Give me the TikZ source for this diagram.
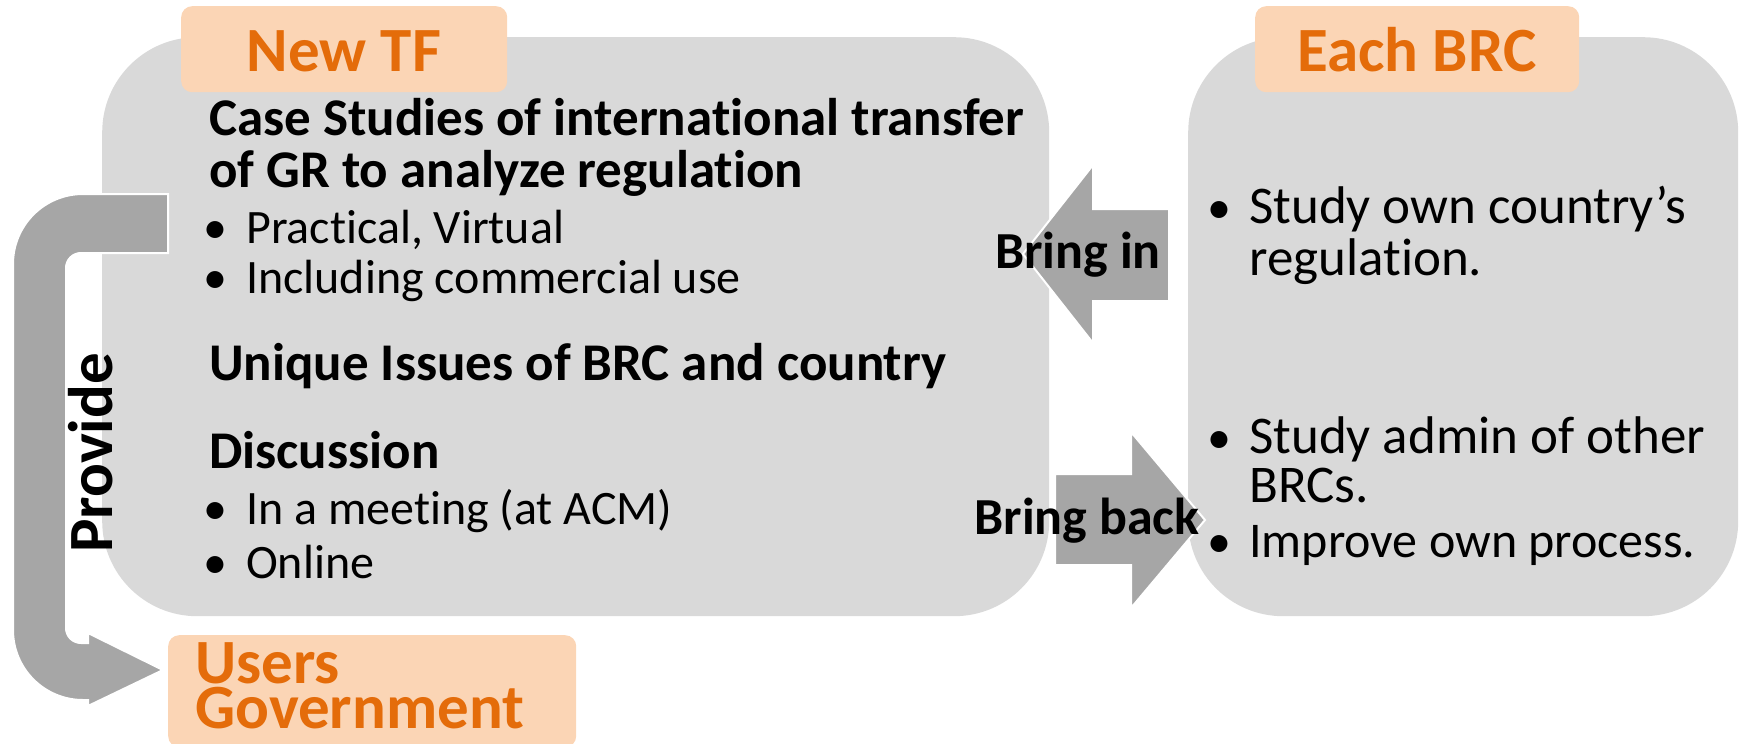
\documentclass[tikz,border=0pt]{standalone}
\usepackage{fontspec}
\setmainfont{Carlito}[Ligatures={NoCommon}]
\definecolor{boxgray}{HTML}{D9D9D9}
\definecolor{arrowgray}{HTML}{A6A6A6}
\definecolor{peach}{HTML}{FBD5B5}
\definecolor{orangetxt}{HTML}{E46C0A}
\newcommand{\nolig}{\kern0pt }
\tikzset{
  panel/.style={fill=boxgray, rounded corners=95pt, inner sep=0pt, anchor=north west},
  tag/.style={fill=peach, rounded corners=11pt, inner sep=0pt, anchor=north west},
  bigarrow/.style={fill=arrowgray, draw=white, line width=2pt, line join=miter},
  tagtext/.style={inner sep=0pt, anchor=base, text=orangetxt, font=\fontsize{63}{63}\selectfont\bfseries},
  usertext/.style={inner sep=0pt, anchor=base west, text=orangetxt, text height=41pt, text depth=0pt, font=\fontsize{63}{63}\selectfont\bfseries},
  headtext/.style={inner sep=0pt, anchor=base west, font=\fontsize{53}{53}\selectfont\bfseries},
  itemtext/.style={inner sep=0pt, anchor=base west, font=\fontsize{48}{48}\selectfont},
  ritemtext/.style={inner sep=0pt, anchor=base west, font=\fontsize{53}{53}\selectfont},
  bulletmark/.style={inner sep=0pt, anchor=base, font=\fontsize{48}{48}\selectfont},
  arrowlabel/.style={inner sep=0pt, anchor=base, font=\fontsize{52}{52}\selectfont\bfseries},
}
\begin{document}
\begin{tikzpicture}[x=1pt,y=-1pt]
\useasboundingbox (0,0) rectangle (1741,744);
% panels
\node[panel, minimum width=947pt, minimum height=579pt] (tfbox) at (102,37) {};
\node[panel, minimum width=550pt, minimum height=579pt] (brcbox) at (1188,37) {};
% tags
\node[tag, minimum width=326pt, minimum height=86pt] (tftag) at (181,6) {};
\node[tag, minimum width=324pt, minimum height=86pt] (brctag) at (1255,6) {};
\node[tag, minimum width=408pt, minimum height=112pt] (usertag) at (168,635) {};
\node[tagtext] (tftitle) at (344,71) {New TF};
\node[tagtext] (brctitle) at (1417,71) {Each BRC};
\node[usertext] (users) at (195,683) {Users};
\node[usertext] (govt) at (195,728) {Government};
% Provide U-turn arrow
\fill[bigarrow] (168,194) -- (83,194) .. controls (44.3,194) and (13,225.3) .. (13,264)
  -- (13,630) .. controls (13,668.7) and (44.3,700) .. (83,700)
  -- (88,700) -- (88,706) -- (163,670) -- (88,633) -- (88,643) -- (81,643)
  .. controls (72.7,643) and (66,636.3) .. (66,628)
  -- (66,268) .. controls (66,259.7) and (72.7,253) .. (81,253)
  -- (168,253) -- cycle;
% Bring in arrow
\fill[bigarrow] (1169,209) -- (1093,209) -- (1093,165) -- (1023,254) -- (1093,343) -- (1093,301) -- (1169,301) -- cycle;
% Bring back arrow
\fill[bigarrow] (1055,474) -- (1131,474) -- (1131,432) -- (1205,520) -- (1131,608) -- (1131,565) -- (1055,565) -- cycle;
% arrow labels
\node[arrowlabel] (bringin) at (1078,268) {Bring in};
\node[arrowlabel] (bringback) at (1087,534) {Bring back};
\node[arrowlabel, rotate=90, font=\fontsize{63}{63}\selectfont\bfseries] (provide) at (112,453) {Provide};
% left panel text
\node[headtext] (h1a) at (209,135) {Case Studies of internat\nolig ional transfer};
\node[headtext] (h1b) at (209,187) {of GR to analyze regulat\nolig ion};
\node[bulletmark] (b1) at (215,243) {•};
\node[itemtext] (i1) at (246,243) {Pract\nolig ical, Virtual};
\node[bulletmark] (b2) at (215,293) {•};
\node[itemtext] (i2) at (246,293) {Including commercial use};
\node[headtext] (h2) at (209,380) {Unique Issues of BRC and country};
\node[headtext] (h3) at (209,468) {Discussion};
\node[bulletmark] (b3) at (215,524) {•};
\node[itemtext] (i3) at (246,524) {In a meeting (at ACM)};
\node[bulletmark] (b4) at (215,578) {•};
\node[itemtext] (i4) at (246,578) {Online};
% right panel text
\node[bulletmark] (rb1) at (1219,223) {•};
\node[ritemtext] (r1a) at (1249,223) {Study own country’s};
\node[ritemtext] (r1b) at (1249,275) {regulat\nolig ion.};
\node[bulletmark] (rb2) at (1219,453) {•};
\node[ritemtext] (r2a) at (1249,453) {Study admin of other};
\node[ritemtext] (r2b) at (1249,502) {BRCs.};
\node[bulletmark] (rb3) at (1219,557) {•};
\node[ritemtext, font=\fontsize{50}{50}\selectfont] (r3) at (1249,557) {Improve own process.};
\end{tikzpicture}
\end{document}
